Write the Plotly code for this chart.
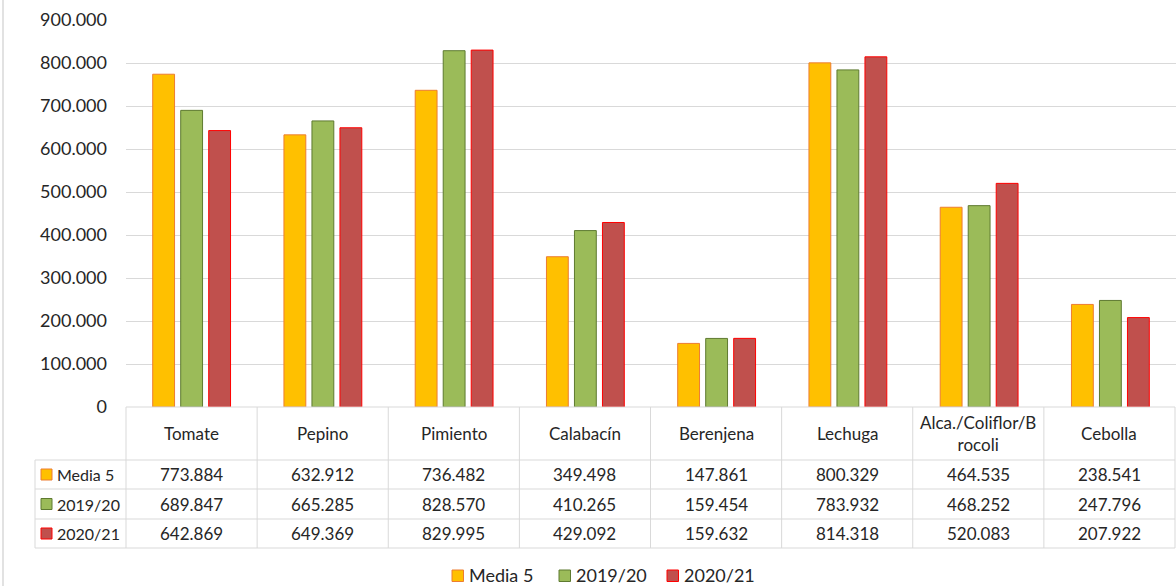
import plotly.graph_objects as go

categories = ["Tomate", "Pepino", "Pimiento", "Calabacín", "Berenjena", "Lechuga",
              "Alca./Coliflor/B<br>rocoli", "Cebolla"]
series_names = ["Media 5", "2019/20", "2020/21"]
media5 = [773884, 632912, 736482, 349498, 147861, 800329, 464535, 238541]
s2019_20 = [689847, 665285, 828570, 410265, 159454, 783932, 468252, 247796]
s2020_21 = [642869, 649369, 829995, 429092, 159632, 814318, 520083, 207922]
y_ticks = [0, 100000, 200000, 300000, 400000, 500000, 600000, 700000, 800000, 900000]

fills = ["#FFC000", "#9BBB59", "#C0504D"]
borders = ["#ED7D31", "#5E7A30", "#FF0000"]
values = [media5, s2019_20, s2020_21]

W, H = 1176, 586
L, R, T, B = 126, 1176, 20, 407
FONT = "Lato"
TXT = "#262626"
GRID = "#d9d9d9"


def px(x):
    return (x - L) / (R - L)


def py(y):
    return (B - y) / (B - T)


def fmt(v):
    return f"{v:,}".replace(",", ".")


fig = go.Figure()
for name, vals, f, b in zip(series_names, values, fills, borders):
    fig.add_trace(go.Bar(x=list(range(len(categories))), y=vals, name=name,
                         marker=dict(color=f, line=dict(color=b, width=1))))

shapes = []
annotations = []
n = len(categories)
CW = 1049 / n
row_tops = [407, 460, 489, 519, 548]
# horizontal table lines
shapes.append(dict(type="line", xref="paper", yref="paper", x0=0, x1=px(1175),
                   y0=py(407), y1=py(407), line=dict(color=GRID, width=1)))
for yy in row_tops[1:]:
    shapes.append(dict(type="line", xref="paper", yref="paper", x0=px(35), x1=px(1175),
                       y0=py(yy), y1=py(yy), line=dict(color=GRID, width=1)))
# vertical lines
for i in range(n + 1):
    xx = px(L + i * CW)
    shapes.append(dict(type="line", xref="paper", yref="paper", x0=xx, x1=xx,
                       y0=py(407), y1=py(548), line=dict(color=GRID, width=1)))
shapes.append(dict(type="line", xref="paper", yref="paper", x0=px(35), x1=px(35),
                   y0=py(460), y1=py(548), line=dict(color=GRID, width=1)))
# outer left border
shapes.append(dict(type="line", xref="paper", yref="paper", x0=px(3), x1=px(3),
                   y0=py(0), y1=py(586), line=dict(color=GRID, width=1.5)))

# header
for i, c in enumerate(categories):
    annotations.append(dict(xref="paper", yref="paper", x=px(L + (i + 0.5) * CW), y=py(433.5),
                            text=c, showarrow=False, xanchor="center", yanchor="middle",
                            font=dict(family=FONT, size=17, color=TXT)))
# rows
for r, (name, vals, f, b) in enumerate(zip(series_names, values, fills, borders)):
    yc = (row_tops[r + 1] + row_tops[r + 2]) / 2
    shapes.append(dict(type="rect", xref="paper", yref="paper", x0=px(41), x1=px(52),
                       y0=py(yc - 5.5), y1=py(yc + 5.5), fillcolor=f,
                       line=dict(color=b, width=1)))
    annotations.append(dict(xref="paper", yref="paper", x=px(55), y=py(yc),
                            text=name, showarrow=False, xanchor="left", yanchor="middle",
                            font=dict(family=FONT, size=16, color=TXT)))
    for i, v in enumerate(vals):
        annotations.append(dict(xref="paper", yref="paper", x=px(L + (i + 0.5) * CW), y=py(yc),
                                text=fmt(v), showarrow=False, xanchor="center",
                                yanchor="middle",
                                font=dict(family=FONT, size=17, color=TXT)))

# bottom legend (drawn)
leg_boxes = [452, 559, 667]
for name, f, b, x0 in zip(series_names, fills, borders, leg_boxes):
    shapes.append(dict(type="rect", xref="paper", yref="paper", x0=px(x0), x1=px(x0 + 11.5),
                       y0=py(570), y1=py(581.5), fillcolor=f, line=dict(color=b, width=1)))
    annotations.append(dict(xref="paper", yref="paper", x=px(x0 + 15), y=py(575),
                            text=name, showarrow=False, xanchor="left", yanchor="middle",
                            font=dict(family=FONT, size=18, color=TXT)))

fig.update_layout(
    width=W, height=H,
    margin=dict(l=L, r=W - R, t=T, b=H - B, pad=0),
    paper_bgcolor="white", plot_bgcolor="white",
    separators=",.",
    barmode="group", bargap=0.36, bargroupgap=0.22,
    font=dict(family=FONT, size=16, color=TXT),
    showlegend=False,
    shapes=shapes, annotations=annotations,
    xaxis=dict(range=[-0.5, n - 0.5], showticklabels=False, showgrid=False,
               zeroline=False, showline=False, ticks=""),
    yaxis=dict(range=[0, 900000], tickvals=y_ticks, tickformat=",d",
               showgrid=True, gridcolor=GRID, gridwidth=1, zeroline=False,
               showline=False, ticks="", ticklabelstandoff=18,
               tickfont=dict(family=FONT, size=18, color=TXT)),
)

fig.write_html("out.html", config={"displayModeBar": False},
               post_script="document.body.style.margin='0';document.body.style.overflow='hidden';")
